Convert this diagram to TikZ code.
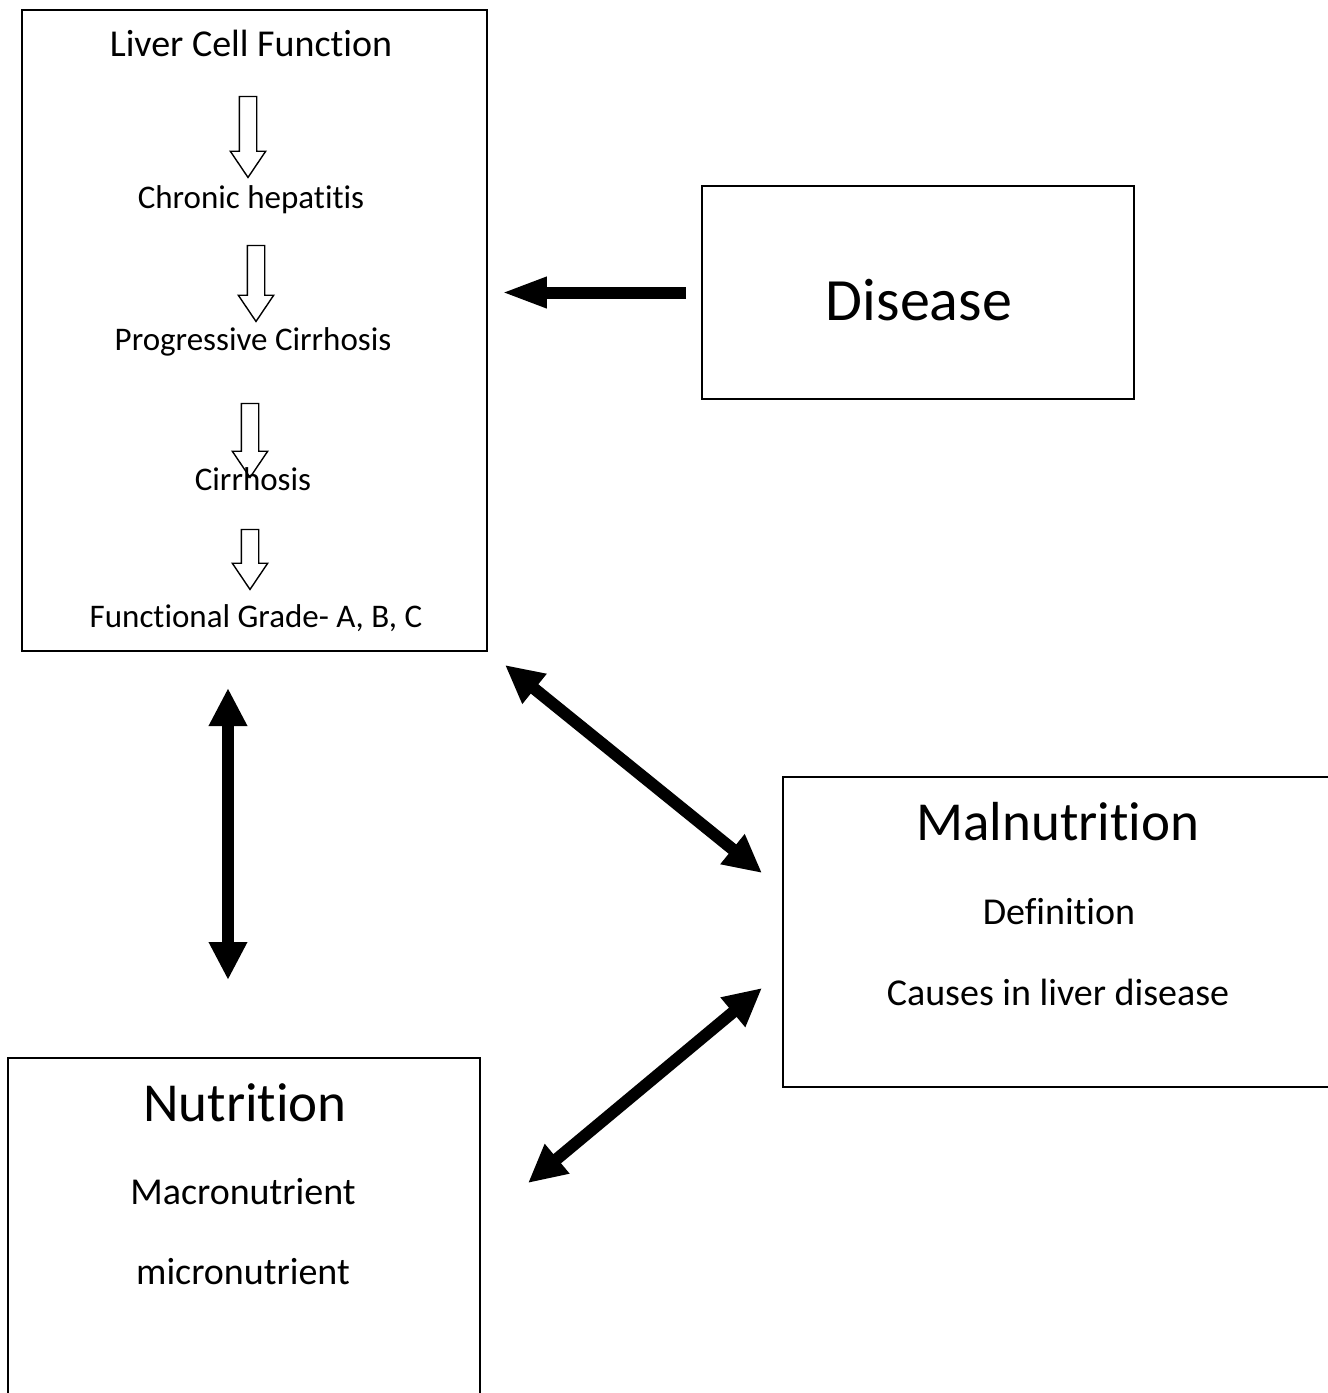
\documentclass[tikz,border=0pt]{standalone}
\usepackage{fontspec}
\setmainfont{Carlito}[Ligatures=NoCommon]
\usetikzlibrary{arrows.meta,shapes.arrows}
\tikzset{
  box/.style={draw, line width=1.6pt, inner sep=0pt},
  small/.style={font=\fontsize{33}{40}\selectfont, anchor=base},
  head/.style={font=\fontsize{38}{46}\selectfont, anchor=base},
  big/.style={font=\fontsize{56}{66}\selectfont, anchor=base},
  hollow/.style={single arrow, draw, line width=1.4pt, shape border rotate=270,
    inner sep=8pt, minimum width=34pt, single arrow head extend=9pt,
    single arrow tip angle=68},
  fat/.style={line width=12pt, {Triangle[length=38pt,width=36pt]}-{Triangle[length=38pt,width=36pt]}},
  left fat/.style={line width=12pt, -{Triangle[length=46pt,width=28pt]}}
}
\begin{document}
\begin{tikzpicture}[x=1pt,y=-1pt]
\path[fill=white, use as bounding box] (0,0) rectangle (1328,1393);
% boxes
\node[box, minimum width=465pt, minimum height=641pt] (lcf) at (254.5,330.5) {};
\node[box, minimum width=432pt, minimum height=213pt] (dis) at (918,292.5) {};
\node[box, minimum width=552pt, minimum height=310pt] (mal) at (1059,932) {};
\node[box, minimum width=472pt, minimum height=360pt] (nut) at (244,1238) {};
% liver cell function column
\node[head] (lcft) at (251,56) {Liver Cell Function};
\node[small] (chr) at (251,208) {Chronic hepatitis};
\node[small] (prog) at (253,350) {Progressive Cirrhosis};
\node[small] (cir) at (253,490) {Cirrhosis};
\node[small] (grade) at (256,627) {Functional Grade- A, B, C};
\node[hollow, minimum height=81pt] (h1) at (248,130.5) {};
\node[hollow, minimum height=76pt] (h2) at (256,277) {};
\node[hollow, minimum height=74pt] (h3) at (250,434) {};
\node[hollow, minimum height=60pt] (h4) at (250,553) {};
% other texts
\node[big, font=\fontsize{60}{70}\selectfont] (dist) at (919,320) {Disease};
\node[big, font=\fontsize{55}{64}\selectfont] (malt) at (1058,840) {Malnutrition};
\node[head] (def) at (1059,924) {Definition};
\node[head] (cause) at (1058,1005) {Causes in liver disease};
\node[big, font=\fontsize{55}{64}\selectfont] (nutt) at (245,1121) {Nutrition};
\node[head] (macro) at (243,1204) {Macronutrient};
\node[head] (micro) at (243,1284) {micronutrient};
% connectors
\coordinate (v1) at (228,688);
\coordinate (v2) at (228,980);
\coordinate (d1) at (505,665);
\coordinate (d2) at (762,873);
\coordinate (d3) at (762,988);
\coordinate (d4) at (528,1183);
\draw[left fat, shorten <=15pt, shorten >=13pt] (dis.west) -- (lcf.east |- dis.west);
\draw[fat] (v1) -- (v2);
\draw[fat] (d1) -- (d2);
\draw[fat] (d3) -- (d4);
\end{tikzpicture}
\end{document}
